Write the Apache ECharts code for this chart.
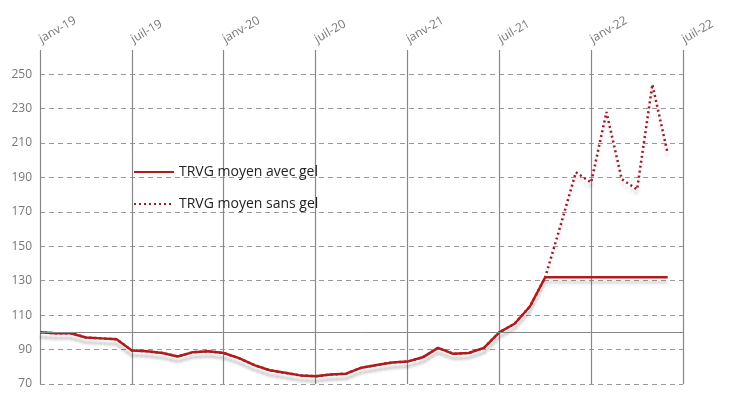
<!DOCTYPE html>
<html><head><meta charset="utf-8">
<script src="https://cdn.jsdelivr.net/npm/echarts@6/dist/echarts.min.js"></script>
<style>html,body{margin:0;padding:0;background:#fff}#c{width:730px;height:411px}</style>
</head><body><div id="c"></div>
<script>
const monthNames=['janv','févr','mars','avr','mai','juin','juil','août','sept','oct','nov','déc'];
const categories=[];
for(let y=19;y<=22;y++)for(let m=0;m<12;m++){if(y===22&&m>6)break;categories.push(monthNames[m]+'-'+y);}
const avecGel=[100,99.5,99.5,97,96.5,96,89.5,89,88,86,88.5,89,88,85,81,78,76.5,75,74.5,75.5,76,79.5,81,82.5,83,85.5,91,87.5,88,91,100,105,115,132,132,132,132,132,132,132,132,132];
const sansGel=[100,99.5,99.5,97,96.5,96,89.5,89,88,86,88.5,89,88,85,81,78,76.5,75,74.5,75.5,76,79.5,81,82.5,83,85.5,91,87.5,88,91,100,105,115,132,162,193,187,228,189,183,244,204];
const shadow={shadowColor:'rgba(0,0,0,0.18)',shadowBlur:3,shadowOffsetY:5};
const chart=echarts.init(document.getElementById('c'));
chart.setOption({
  animation:false,
  grid:{left:40,right:47,top:50,bottom:27},
  legend:{orient:'vertical',left:128,top:160,itemGap:18,itemWidth:40,itemHeight:10,
    itemStyle:{opacity:0},
    textStyle:{fontSize:14,color:'#222',fontFamily:'Open Sans'},
    data:['TRVG moyen avec gel','TRVG moyen sans gel']},
  xAxis:{type:'category',data:categories,boundaryGap:false,position:'top',
    axisLine:{show:false},axisTick:{show:false},
    axisLabel:{interval:5,rotate:-30,align:'left',color:'#777',fontSize:12,fontFamily:'Open Sans',margin:10},
    splitLine:{show:true,interval:5,lineStyle:{color:'#888',width:1.2}}},
  yAxis:{type:'value',min:70,max:264,interval:20,
    axisLine:{show:false},axisTick:{show:false},
    axisLabel:{color:'#777',fontSize:12,fontFamily:'Open Sans',showMaxLabel:false,margin:8},
    splitLine:{show:true,showMaxLine:false,lineStyle:{type:[5,4],color:'#999',width:1.2}}},
  series:[
    {name:'TRVG moyen sans gel',type:'line',data:sansGel,symbol:'none',z:2,
      itemStyle:{color:'#9b1b2b'},
      lineStyle:Object.assign({color:'#9b1b2b',width:2.5,type:[2,3]},shadow)},
    {name:'TRVG moyen avec gel',type:'line',data:avecGel,symbol:'none',z:3,
      itemStyle:{color:'#b01c1c'},
      lineStyle:Object.assign({color:'#b01c1c',width:2.5},shadow),
      markLine:{silent:true,symbol:'none',label:{show:false},
        lineStyle:{color:'#888',type:'solid',width:1},data:[{yAxis:100}]}}
  ]
});
</script></body></html>
